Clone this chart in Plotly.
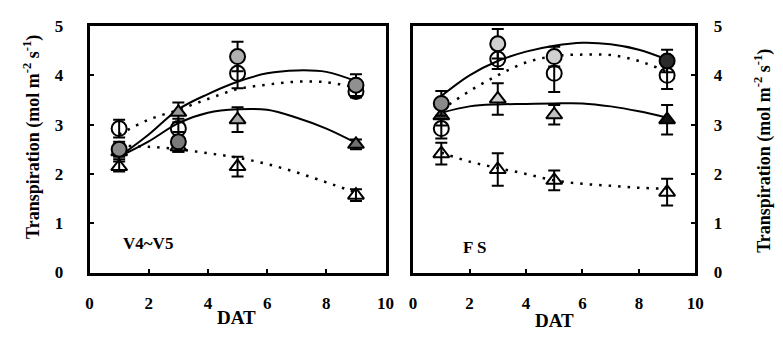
import plotly.graph_objects as go

# ---------------- data ----------------
DAT = [1, 3, 5, 9]
CURVE_X = [1, 2, 3, 4, 5, 6, 7, 8, 9]

# V4~V5 panel (left)
L_fc = [2.50, 2.65, 4.38, 3.80]
L_fc_err = [0.15, 0.20, 0.30, 0.22]
L_oc = [2.92, 2.92, 4.04, 3.67]
L_oc_err = [0.18, 0.20, 0.30, 0.12]
L_ft = [2.45, 3.25, 3.10, 2.60]
L_ft_err = [0.15, 0.20, 0.25, 0.10]
L_ot = [2.15, 2.55, 2.15, 1.57]
L_ot_err = [0.10, 0.10, 0.20, 0.12]

L_solid_hi = [2.35, 2.80, 3.31, 3.62, 3.87, 4.04, 4.10, 4.07, 3.88]
L_dot_hi = [2.80, 3.10, 3.30, 3.52, 3.72, 3.81, 3.87, 3.86, 3.75]
L_solid_lo = [2.35, 2.66, 3.03, 3.24, 3.31, 3.30, 3.14, 2.92, 2.63]
L_dot_lo = [2.57, 2.55, 2.50, 2.42, 2.33, 2.20, 2.03, 1.83, 1.62]

# FS panel (right)
R_fc = [3.43, 4.64, 4.38, 4.29]
R_fc_err = [0.25, 0.30, 0.20, 0.23]
R_oc = [2.92, 4.33, 4.04, 4.00]
R_oc_err = [0.20, 0.20, 0.38, 0.28]
R_ft = [3.18, 3.52, 3.20, 3.10]
R_ft_err = [0.20, 0.32, 0.20, 0.30]
R_ot = [2.41, 2.09, 1.87, 1.63]
R_ot_err = [0.22, 0.33, 0.20, 0.27]

R_solid_hi = [3.58, 4.00, 4.29, 4.48, 4.60, 4.66, 4.63, 4.52, 4.32]
R_dot_hi = [3.30, 3.68, 4.00, 4.26, 4.39, 4.42, 4.41, 4.29, 4.07]
R_solid_lo = [3.24, 3.37, 3.41, 3.42, 3.43, 3.43, 3.37, 3.27, 3.14]
R_dot_lo = [2.43, 2.25, 2.12, 2.00, 1.87, 1.80, 1.76, 1.72, 1.70]

X_TICKS = [0, 2, 4, 6, 8, 10]
Y_TICKS = [0, 1, 2, 3, 4, 5]

# ---------------- styles ----------------
FONT = "Liberation Serif"
L_fc_col = ["#8a8a8a", "#7a7a7a", "#b0b0b0", "#909090"]
L_ft_col = ["#6a6a6a", "#9a9a9a", "#a8a8a8", "#707070"]
R_fc_col = ["#8a8a8a", "#d0d0d0", "#d0d0d0", "#2a2a2a"]
R_ft_col = ["#555555", "#d0d0d0", "#c0c0c0", "#111111"]

fig = go.Figure()


def add_curve(xa, ya, yv, dash):
    fig.add_trace(go.Scatter(x=CURVE_X, y=yv, mode="lines", xaxis=xa, yaxis=ya,
                             line=dict(color="black", width=2 if dash == "solid" else 2.5,
                                       dash=dash, shape="spline"),
                             showlegend=False, hoverinfo="skip"))


def add_pts(xa, ya, yv, err, symbol, fill):
    fig.add_trace(go.Scatter(x=DAT, y=yv, mode="markers", xaxis=xa, yaxis=ya,
                             error_y=dict(type="data", array=err, color="black",
                                          thickness=2, width=6),
                             marker=dict(symbol=symbol, size=15 if "circle" in symbol else 14,
                                         color=fill if fill else "black",
                                         line=dict(color="black", width=2)),
                             showlegend=False))


DOT = "2.5px,7px"

# left panel
add_curve("x", "y", L_solid_hi, "solid")
add_curve("x", "y", L_dot_hi, DOT)
add_curve("x", "y", L_solid_lo, "solid")
add_curve("x", "y", L_dot_lo, DOT)
add_pts("x", "y", L_ot, L_ot_err, "triangle-up-open", None)
add_pts("x", "y", L_ft, L_ft_err, "triangle-up", L_ft_col)
add_pts("x", "y", L_oc, L_oc_err, "circle-open", None)
add_pts("x", "y", L_fc, L_fc_err, "circle", L_fc_col)

# right panel
add_curve("x2", "y2", R_solid_hi, "solid")
add_curve("x2", "y2", R_dot_hi, DOT)
add_curve("x2", "y2", R_solid_lo, "solid")
add_curve("x2", "y2", R_dot_lo, DOT)
add_pts("x2", "y2", R_ot, R_ot_err, "triangle-up-open", None)
add_pts("x2", "y2", R_ft, R_ft_err, "triangle-up", R_ft_col)
add_pts("x2", "y2", R_oc, R_oc_err, "circle-open", None)
add_pts("x2", "y2", R_fc, R_fc_err, "circle", R_fc_col)

W, H = 783, 343
ydom = [1 - 279 / H, 1 - 18 / H]
tickfont = dict(family=FONT, size=17, color="black", weight="bold")
common_x = dict(range=[0, 10], tickvals=X_TICKS, ticks="inside", ticklen=4, tickwidth=2,
                tickcolor="black", showline=True, linecolor="black", linewidth=3,
                mirror=True, showgrid=False, zeroline=False, tickfont=tickfont,
                ticklabelstandoff=13)
common_y = dict(range=[0, 5], tickvals=Y_TICKS, ticks="inside", ticklen=4, tickwidth=2,
                tickcolor="black", showline=True, linecolor="black", linewidth=3,
                mirror=True, showgrid=False, zeroline=False, tickfont=tickfont,
                domain=ydom)

fig.update_layout(
    width=W, height=H,
    margin=dict(l=0, r=0, t=0, b=0),
    paper_bgcolor="white", plot_bgcolor="white",
    xaxis=dict(domain=[87 / W, 388 / W], anchor="y", **common_x),
    yaxis=dict(anchor="x", side="left", ticklabelstandoff=20, **common_y),
    xaxis2=dict(domain=[416 / W, 703 / W], anchor="y2", **common_x),
    yaxis2=dict(anchor="x2", side="right", ticklabelstandoff=12, **common_y),
)

title_font = dict(family=FONT, size=18, color="black", weight="bold")
ytitle = "Transpiration (mol m<sup>-2</sup> s<sup>-1</sup>)"
fig.add_annotation(text=ytitle, xref="paper", yref="paper", x=29 / W, y=1 - 136 / H,
                   textangle=-90, showarrow=False, font=title_font,
                   xanchor="center", yanchor="middle")
fig.add_annotation(text=ytitle, xref="paper", yref="paper", x=772 / W, y=1 - 150 / H,
                   textangle=-90, showarrow=False, font=title_font,
                   xanchor="center", yanchor="middle")
dat_font = dict(family=FONT, size=19, color="black", weight="bold")
fig.add_annotation(text="DAT", xref="paper", yref="paper", x=236 / W, y=1 - 327 / H,
                   showarrow=False, font=dat_font, xanchor="center", yanchor="middle")
fig.add_annotation(text="DAT", xref="paper", yref="paper", x=560 / W, y=1 - 330 / H,
                   showarrow=False, font=dat_font, xanchor="center", yanchor="middle")
fig.add_annotation(text="V4~V5", xref="paper", yref="paper", x=119 / W, y=1 - 248 / H,
                   showarrow=False, font=dict(family=FONT, size=17, color="black", weight="bold"),
                   xanchor="left", yanchor="middle")
fig.add_annotation(text="F S", xref="paper", yref="paper", x=465 / W, y=1 - 252 / H,
                   showarrow=False, font=dict(family=FONT, size=17, color="black", weight="bold"),
                   xanchor="left", yanchor="middle")

fig.write_html("out.html")
